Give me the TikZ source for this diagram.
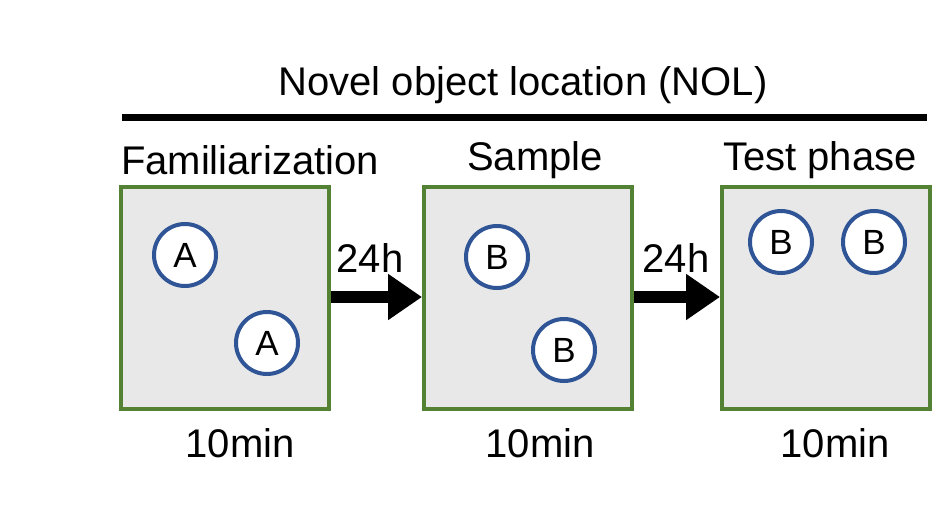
\documentclass[tikz,border=0pt]{standalone}
\usepackage{fontspec}
\setmainfont{Liberation Sans}
\usetikzlibrary{arrows.meta}
\definecolor{boxgreen}{HTML}{548235}
\definecolor{cblue}{HTML}{2F5597}
\begin{document}
\begin{tikzpicture}[x=1pt,y=-1pt,
  lbl/.style={font=\fontsize{40}{44}\selectfont, inner sep=0},
  box/.style={draw=boxgreen, line width=4, fill=gray!18, minimum width=208, minimum height=222, inner sep=0},
  obj/.style={circle, draw=cblue, line width=4, fill=white, minimum size=62, inner sep=0, font=\fontsize{35}{38}\selectfont},
  arr/.style={line width=12, -{Triangle[length=34,width=44]}}]
\useasboundingbox (0,0) rectangle (947,516);
\node[lbl] (title) at (523,85) {Novel object location (NOL)};
\coordinate (l1) at (122,118); \coordinate (l2) at (927,118);
\draw[line width=7] (l1) -- (l2);
\node[lbl] (t1) at (250,160) {Familiarization};
\node[lbl] (t2) at (535,160) {Sample};
\node[lbl] (t3) at (820,160) {Test phase};
\node[box] (b1) at (225,298) {};
\node[box] (b2) at (528,298) {};
\node[box] (b3) at (826,298) {};
\node[obj] (a1) at (185,255) {A};
\node[obj] (a2) at (267,343) {A};
\node[obj] (s1) at (497,257) {B};
\node[obj] (s2) at (564,350) {B};
\node[obj] (p1) at (781,242) {B};
\node[obj] (p2) at (874,242) {B};
\draw[arr] (b1.east |- 0,297) -- (b2.west |- 0,297);
\draw[arr] (b2.east |- 0,297) -- (b3.west |- 0,297);
\node[lbl] (h1) at (370,258) {24h};
\node[lbl] (h2) at (676,258) {24h};
\node[lbl] (m1) at (240,443) {10min};
\node[lbl] (m2) at (540,443) {10min};
\node[lbl] (m3) at (835,443) {10min};
\end{tikzpicture}
\end{document}
